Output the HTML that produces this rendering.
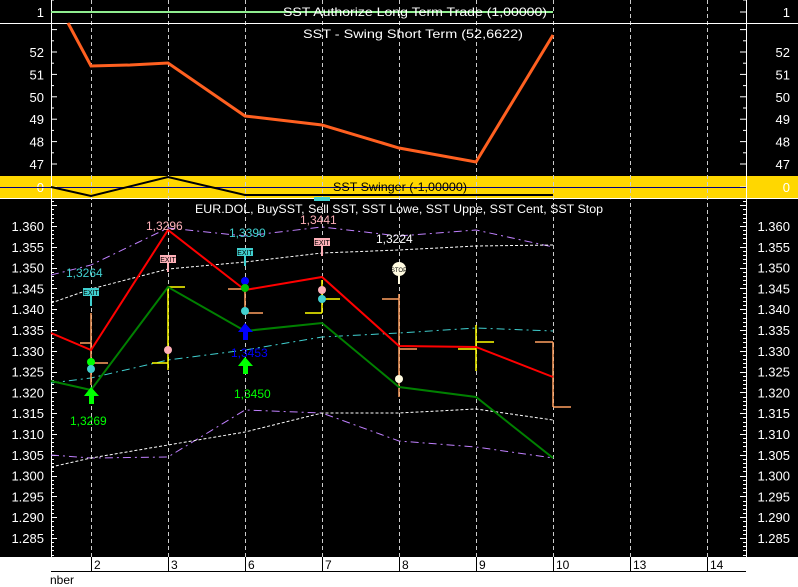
<!DOCTYPE html>
<html><head><meta charset="utf-8"><style>
html,body{margin:0;padding:0;background:#000;}
svg{display:block;font-family:"Liberation Sans",sans-serif;}
</style></head><body>
<svg id="s" width="798" height="587" viewBox="0 0 798 587" xmlns="http://www.w3.org/2000/svg">
<rect width="798" height="587" fill="#000"/>
<rect x="0" y="176" width="798" height="22" fill="#ffd700"/>
<rect x="0" y="557" width="798" height="30" fill="#fff"/>
<g id="grid" stroke="#ccc" stroke-width="1" stroke-dasharray="4,3"></g>
<line x1="0" y1="23.5" x2="798" y2="23.5" stroke="#fff"/>
<line x1="0" y1="198.5" x2="798" y2="198.5" stroke="#fff"/>
<line x1="51.5" y1="0" x2="51.5" y2="557" stroke="#fff"/>
<line x1="746.5" y1="0" x2="746.5" y2="557" stroke="#fff"/>
<g id="ticks" stroke="#fff" stroke-width="1"></g>
<g id="labels" fill="#fff" font-size="13"></g>

<line x1="51" y1="12" x2="553" y2="12" stroke="#90ee90" stroke-width="2"/>
<text x="283" y="16" fill="#fff" font-size="12" textLength="264" lengthAdjust="spacingAndGlyphs">SST Authorize Long Term Trade (1,00000)</text>
<text x="303" y="38" fill="#fff" font-size="12" textLength="220" lengthAdjust="spacingAndGlyphs">SST - Swing Short Term (52,6622)</text>
<polyline points="68,23 91,66 130,65 168,63 245,116 322,125 399,148 476,162 553,35" fill="none" stroke="#ff6020" stroke-width="3"/>
<line x1="0" y1="187.5" x2="746" y2="187.5" stroke="#000080" stroke-width="1"/>
<polyline points="51,187 91,196 168,177 245,195 553,195" fill="none" stroke="#000" stroke-width="2"/>
<text x="333" y="191" fill="#000" font-size="12" textLength="134" lengthAdjust="spacingAndGlyphs">SST Swinger (-1,00000)</text>

<text x="195" y="213" fill="#fff" font-size="12" textLength="408" lengthAdjust="spacingAndGlyphs">EUR.DOL, BuySST, Sell SST, SST Lowe, SST Uppe, SST Cent, SST Stop</text>
<polyline points="51,275 91,265 168,228 245,236 322,227 399,236 476,230 553,247" fill="none" stroke="#c080ff" stroke-width="1" stroke-dasharray="8,4,2,4"/>
<polyline points="51,455 91,458 168,457 245,410 322,413 399,441 476,447 553,458" fill="none" stroke="#c080ff" stroke-width="1" stroke-dasharray="8,4,2,4"/>
<polyline points="51,303 91,289 168,269 245,262 322,253 399,250 476,246 553,245" fill="none" stroke="#fff" stroke-width="1" stroke-dasharray="3,2"/>
<polyline points="51,467 91,458 168,445 245,432 322,413 399,413 476,409 553,420" fill="none" stroke="#fff" stroke-width="1" stroke-dasharray="3,2"/>
<polyline points="51,383 91,378 168,360 245,350 322,337 399,333 476,328 553,331" fill="none" stroke="#40d0d0" stroke-width="1" stroke-dasharray="8,4,2,4"/>
<g stroke-width="1.5">
<line x1="91" y1="313" x2="91" y2="385" stroke="#ffa060"/><line x1="80" y1="343" x2="91" y2="343" stroke="#ffa060"/><line x1="91" y1="363" x2="108" y2="363" stroke="#ffa060"/>
<line x1="168" y1="287" x2="168" y2="370" stroke="#ffff00"/><line x1="152" y1="363" x2="168" y2="363" stroke="#ffff00"/><line x1="168" y1="287" x2="185" y2="287" stroke="#ffff00"/>
<line x1="245" y1="289" x2="245" y2="313" stroke="#ffa060"/><line x1="228" y1="289" x2="245" y2="289" stroke="#ffa060"/><line x1="245" y1="313" x2="263" y2="313" stroke="#ffa060"/>
<line x1="322" y1="280" x2="322" y2="313" stroke="#ffff00"/><line x1="305" y1="313" x2="322" y2="313" stroke="#ffff00"/><line x1="322" y1="299" x2="340" y2="299" stroke="#ffff00"/>
<line x1="399" y1="294" x2="399" y2="397" stroke="#ffa060"/><line x1="382" y1="299" x2="399" y2="299" stroke="#ffa060"/><line x1="399" y1="349" x2="417" y2="349" stroke="#ffa060"/>
<line x1="476" y1="325" x2="476" y2="371" stroke="#ffff00"/><line x1="458" y1="349" x2="476" y2="349" stroke="#ffff00"/><line x1="476" y1="342" x2="494" y2="342" stroke="#ffff00"/>
<line x1="553" y1="342" x2="553" y2="407" stroke="#ffa060"/><line x1="535" y1="342" x2="553" y2="342" stroke="#ffa060"/><line x1="553" y1="407" x2="571" y2="407" stroke="#ffa060"/>
</g>
<polyline points="51,333 91,350 168,230 245,290 322,277 399,346 476,347 553,377" fill="none" stroke="#ff0000" stroke-width="2"/>
<polyline points="51,381 91,390 168,287 245,331 322,323 399,387 476,397 553,458" fill="none" stroke="#008000" stroke-width="2"/>
<circle cx="91" cy="362" r="4" fill="#00ff00"/><circle cx="91" cy="369" r="4" fill="#40d0d0"/>
<circle cx="168" cy="350" r="4" fill="#ffb0b8"/>
<circle cx="245" cy="281" r="4" fill="#0000ff"/><circle cx="245" cy="288" r="4" fill="#00c000"/><circle cx="245" cy="311" r="4" fill="#40d0d0"/>
<circle cx="322" cy="290" r="4" fill="#ffb0b8"/><circle cx="322" cy="299" r="4" fill="#40d0d0"/>
<circle cx="399" cy="379" r="4" fill="#fffbe0"/>
<polygon points="91,387 84,396 89,396 89,404 94,404 94,396 99,396" fill="#00ff00"/>
<polygon points="245,357 238,366 243,366 243,374 248,374 248,366 253,366" fill="#00ff00"/>
<polygon points="245,323 238,332 243,332 243,340 248,340 248,332 253,332" fill="#0000ff"/>
<g font-size="7" text-anchor="middle">
<line x1="91" y1="296" x2="91" y2="306" stroke="#40d0d0" stroke-width="2"/><rect x="83" y="288" width="16" height="8" fill="#40d0d0"/><text x="91" y="295" fill="#000">EXIT</text>
<line x1="168" y1="262" x2="168" y2="272" stroke="#ffb0b8" stroke-width="2"/><rect x="160" y="255" width="16" height="8" fill="#ffb0b8"/><text x="168" y="262" fill="#000">EXIT</text>
<line x1="245" y1="255" x2="245" y2="266" stroke="#40d0d0" stroke-width="2"/><rect x="237" y="248" width="16" height="8" fill="#40d0d0"/><text x="245" y="255" fill="#000">EXIT</text>
<line x1="322" y1="245" x2="322" y2="256" stroke="#ffb0b8" stroke-width="2"/><rect x="314" y="238" width="16" height="8" fill="#ffb0b8"/><text x="322" y="245" fill="#000">EXIT</text>
<line x1="399" y1="276" x2="399" y2="284" stroke="#fffbe0" stroke-width="2"/><circle cx="399" cy="269" r="7" fill="#fffbe0"/><text x="399" y="272" fill="#000" font-size="6">STOP</text>
<rect x="314" y="197" width="16" height="4" fill="#40d0d0"/>
</g>
<g font-size="12">
<text x="66" y="277" fill="#40d0d0">1,3264</text>
<text x="146" y="230" fill="#ffb0b8">1,3296</text>
<text x="229" y="237" fill="#40d0d0">1,3390</text>
<text x="300" y="224" fill="#ffb0b8">1,3441</text>
<text x="376" y="243" fill="#fff">1,3224</text>
<text x="231" y="357" fill="#0000ff">1,3453</text>
<text x="234" y="398" fill="#00ff00">1,3450</text>
<text x="70" y="425" fill="#00ff00">1,3269</text>
</g>
<line x1="51" y1="571.5" x2="746" y2="571.5" stroke="#000"/>
<text x="50" y="584" fill="#000" font-size="12">nber</text>
</svg>
<script>
var ns="http://www.w3.org/2000/svg";
function el(p,t,a,txt){var e=document.createElementNS(ns,t);for(var k in a)e.setAttribute(k,a[k]);if(txt)e.textContent=txt;document.getElementById(p).appendChild(e);}
var xs=[91,168,245,322,399,476,553,630,707],dl=["2","3","6","7","8","9","10","13","14"];
xs.forEach(function(x,i){
 el("grid","line",{x1:x+.5,y1:0,x2:x+.5,y2:557});
 el("ticks","line",{x1:x+.5,y1:557,x2:x+.5,y2:571,stroke:"#000"});
 el("labels","text",{x:x+3,y:569,fill:"#000","font-size":"12"},dl[i]);
});
[51,746].forEach(function(ax){var d=ax==51?1:-1;
 el("ticks","line",{x1:ax,y1:12,x2:ax+d*6,y2:12});
 el("ticks","line",{x1:ax,y1:0,x2:ax+d*3,y2:0});
 for(var v=46.5;v<=53.5;v+=0.5){var y=52+(52-v)*22.4; if(y<24||y>174)continue; var big=(v%1==0); el("ticks","line",{x1:ax,y1:y,x2:ax+d*(big?6:3),y2:y});}
 el("ticks","line",{x1:ax,y1:187,x2:ax+d*6,y2:187});
 for(var i=0;i<=90;i++){var v=1.280+i*0.001;var y=226+(1.360-v)*4160;if(y<200||y>556)continue;var big=(i%5==0);el("ticks","line",{x1:ax,y1:Math.round(y)+.5,x2:ax+d*(big?6:3),y2:Math.round(y)+.5});}
});
function lab(t,y){el("labels","text",{x:44,y:y+5,"text-anchor":"end"},t);el("labels","text",{x:790,y:y+5,"text-anchor":"end"},t);}
lab("1",12);
for(var v=47;v<=52;v++)lab(String(v),52+(52-v)*22.4);
lab("0",187);
for(var i=0;i<=15;i++){var v=1.285+i*0.005;lab(v.toFixed(3),226+(1.360-v)*4160);}
</script>
</body></html>
